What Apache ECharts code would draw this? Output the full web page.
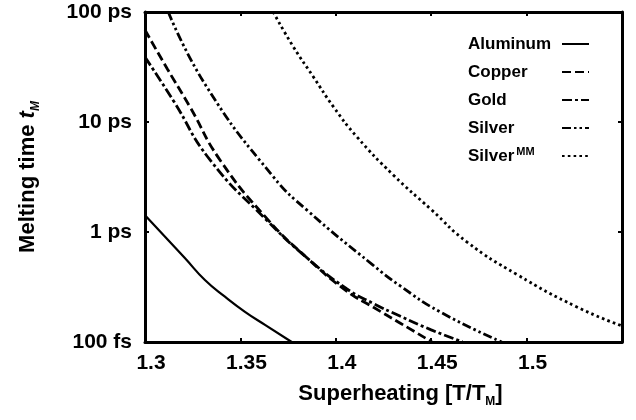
<!DOCTYPE html>
<html><head><meta charset="utf-8">
<script src="https://cdn.jsdelivr.net/npm/echarts@6/dist/echarts.min.js"></script>
<style>html,body{margin:0;padding:0;background:#fff}#c{width:636px;height:420px}</style>
</head><body><div id="c"></div>
<script>
// ---- data (x = superheating T/T_M, y = melting time in ps) ----
const seriesNames = ['Aluminum', 'Copper', 'Gold', 'Silver', 'SilverMM'];
const aluminum = [[1.3,1.42],[1.3105,0.906],[1.321,0.577],[1.3314,0.366],[1.3419,0.258],[1.3524,0.188],[1.3629,0.143],[1.3769,0.1]];
const copper = [[1.3,68.6],[1.3118,30.2],[1.3236,13.7],[1.3393,4.52],[1.3638,1.33],[1.385,0.58],[1.4057,0.29],[1.4195,0.208],[1.4336,0.149],[1.4504,0.1]];
const gold = [[1.3,38.9],[1.3147,15.8],[1.3341,4.52],[1.3638,1.28],[1.385,0.58],[1.4057,0.305],[1.4195,0.225],[1.4336,0.172],[1.45,0.129],[1.4665,0.1]];
const silver = [[1.3122,100],[1.3323,20.9],[1.3672,3.18],[1.3849,1.58],[1.4195,0.5],[1.4336,0.325],[1.4546,0.188],[1.487,0.1]];
const silverMM = [[1.3672,100],[1.3777,48.4],[1.3882,25.8],[1.3987,13.8],[1.411,7.35],[1.4301,3.3],[1.45,1.6],[1.4688,0.81],[1.495,0.41],[1.5264,0.208],[1.55,0.14]];
const yTickValues = [0.1, 1, 10, 100];
const yTickLabels = ['100 fs', '1 ps', '10 ps', '100 ps'];
const xMin = 1.3, xMax = 1.55, xStep = 0.05;

const FONT = "'Liberation Sans', Arial, Helvetica, sans-serif";
const dashes = {
  Aluminum: 'solid',
  Copper: [9, 4],
  Gold: [10, 3, 3, 3],
  Silver: [9, 3, 2.5, 3, 2.5, 3],
  SilverMM: [2.6, 3.2]
};
const widths = { Aluminum: 2.2, Copper: 2.8, Gold: 2.8, Silver: 2.8, SilverMM: 2.8 };
const dataMap = { Aluminum: aluminum, Copper: copper, Gold: gold, Silver: silver, SilverMM: silverMM };

const axisLine = { show: true, onZero: false, lineStyle: { color: '#000', width: 3 } };
const axisTick = { show: true, inside: true, length: 4, lineStyle: { color: '#000', width: 2 } };

const chart = echarts.init(document.getElementById('c'), null, { renderer: 'canvas' });
chart.setOption({
  animation: false,
  backgroundColor: '#fff',
  grid: { left: 145, right: 14, top: 12, bottom: 78, containLabel: false, outerBoundsMode: 'none' },
  legend: [
    { // names column
      orient: 'vertical', left: 450, top: 29, align: 'left',
      itemWidth: 0, itemHeight: 20, itemGap: 8,
      data: seriesNames,
      itemStyle: { opacity: 0 }, lineStyle: { opacity: 0 },
      formatter: n => n === 'SilverMM' ? 'Silver{sup|MM}' : n,
      textStyle: {
        fontFamily: FONT, fontWeight: 'bold', fontSize: 17, color: '#000', lineHeight: 20,
        rich: { sup: { fontFamily: FONT, fontWeight: 'bold', fontSize: 11, color: '#000', verticalAlign: 'top', lineHeight: 16, padding: [0, 0, 0, 2] } }
      }
    },
    { // line-sample column
      orient: 'vertical', left: 556, top: 31, align: 'left',
      itemWidth: 27, itemHeight: 20, itemGap: 12,
      data: seriesNames,
      itemStyle: { opacity: 0 },
      formatter: () => '',
      textStyle: { fontSize: 17, lineHeight: 20 }
    }
  ],
  xAxis: [
    {
      type: 'value', min: xMin, max: xMax, interval: xStep, position: 'bottom',
      axisLine, axisTick, splitLine: { show: false },
      axisLabel: {
        show: true, margin: 11, showMaxLabel: false, color: '#000',
        fontFamily: FONT, fontWeight: 'bold', fontSize: 21, padding: [0, 0, 0, 12],
        formatter: v => String(+(+v).toFixed(2))
      },
      name: 'Superheating [T/T{sub|M}]', nameLocation: 'middle', nameGap: 41,
      nameTextStyle: {
        fontFamily: FONT, fontWeight: 'bold', fontSize: 22, color: '#000', padding: [0, 0, 0, 34],
        rich: { sub: { fontFamily: FONT, fontWeight: 'bold', fontSize: 12, color: '#000', verticalAlign: 'bottom', padding: [0, 0, -3, 0] } }
      }
    },
    {
      type: 'value', min: xMin, max: xMax, interval: xStep, position: 'top',
      axisLine, axisTick, splitLine: { show: false }, axisLabel: { show: false }
    }
  ],
  yAxis: [
    {
      type: 'log', logBase: 10, min: 0.1, max: 100, position: 'left',
      axisLine, axisTick, splitLine: { show: false }, minorTick: { show: false },
      axisLabel: {
        show: true, margin: 13, color: '#000', fontFamily: FONT, fontWeight: 'bold', fontSize: 21,
        formatter: v => {
          const i = yTickValues.findIndex(t => Math.abs(Math.log10(t) - Math.log10(v)) < 1e-6);
          return i >= 0 ? yTickLabels[i] : '';
        }
      },
      name: 'Melting time {it|t}{sub|M}', nameLocation: 'middle', nameGap: 106, nameRotate: 90,
      nameTextStyle: {
        fontFamily: FONT, fontWeight: 'bold', fontSize: 22, color: '#000',
        rich: {
          it: { fontFamily: FONT, fontWeight: 'bold', fontStyle: 'italic', fontSize: 22, color: '#000' },
          sub: { fontFamily: FONT, fontWeight: 'bold', fontStyle: 'italic', fontSize: 12, color: '#000', verticalAlign: 'bottom', padding: [0, 0, -3, 0] }
        }
      }
    },
    {
      type: 'log', logBase: 10, min: 0.1, max: 100, position: 'right',
      axisLine, axisTick, splitLine: { show: false }, axisLabel: { show: false }
    }
  ],
  series: seriesNames.map(n => ({
    name: n, type: 'line', xAxisIndex: 0, yAxisIndex: 0,
    data: dataMap[n], smooth: 0.5, symbol: 'none', showSymbol: false, clip: true,
    lineStyle: { color: '#000', width: widths[n], type: dashes[n], cap: 'butt' },
    itemStyle: { color: '#000' },
    emphasis: { disabled: true }
  }))
});
</script></body></html>
